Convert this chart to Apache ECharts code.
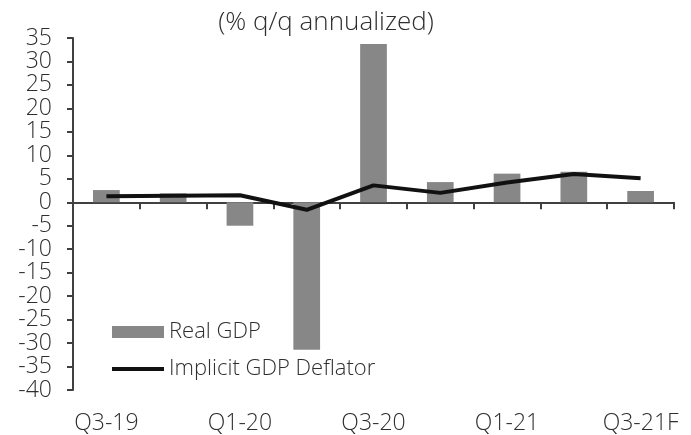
<!DOCTYPE html>
<html>
<head>
<meta charset="utf-8">
<script src="https://cdn.jsdelivr.net/npm/echarts@6/dist/echarts.min.js"></script>
<style>
  html, body { margin: 0; padding: 0; background: #fff; }
  #chart { width: 691px; height: 435px; }
</style>
</head>
<body>
<div id="chart"></div>
<script>
// quarters on the axis
const quarters = ['Q3-19', 'Q4-19', 'Q1-20', 'Q2-20', 'Q3-20', 'Q4-20', 'Q1-21', 'Q2-21', 'Q3-21F'];
// % q/q annualized
const realGdp = [2.6, 1.9, -5.0, -31.4, 33.7, 4.3, 6.1, 6.5, 2.4];
const deflator = [1.3, 1.4, 1.5, -1.6, 3.6, 2.0, 4.2, 6.0, 5.1];

const fontName = 'Open Sans';
const textColor = '#2e2e2e';
const axisColor = '#404040';
const lineColor = '#111';

const chart = echarts.init(document.getElementById('chart'));

chart.setOption({
  animation: false,
  title: {
    text: '(% q/q annualized)',
    left: 326,
    top: 10,
    padding: 0,
    textAlign: 'center',
    textStyle: { fontFamily: fontName, fontWeight: 300, fontSize: 26, color: textColor }
  },
  grid: { left: 73, right: 17, top: 38, bottom: 45 },
  legend: {
    orient: 'vertical',
    left: 110,
    top: 321,
    padding: 0,
    itemWidth: 52,
    itemHeight: 12,
    itemGap: 15,
    textStyle: { fontFamily: fontName, fontWeight: 300, fontSize: 22, color: textColor },
    data: [
      { name: 'Real GDP', icon: 'rect' },
      {
        name: 'Implicit GDP Deflator',
        itemStyle: { opacity: 0 },
        lineStyle: { color: lineColor, width: 4 }
      }
    ]
  },
  xAxis: [
    {
      // axis line sits on zero
      type: 'category',
      data: quarters,
      axisLine: { onZero: true, lineStyle: { color: axisColor, width: 2 } },
      axisTick: { show: true, length: 7, lineStyle: { color: axisColor, width: 2 } },
      axisLabel: { show: false }
    },
    {
      // labels only, at the bottom
      type: 'category',
      data: quarters,
      position: 'bottom',
      axisLine: { show: false, onZero: false },
      axisTick: { show: false },
      axisLabel: {
        interval: 1,
        margin: 22,
        fontFamily: fontName,
        fontWeight: 300,
        fontSize: 23,
        color: textColor
      }
    }
  ],
  yAxis: {
    type: 'value',
    min: -40,
    max: 35,
    interval: 5,
    splitLine: { show: false },
    axisLine: { show: true, lineStyle: { color: axisColor, width: 2 } },
    axisTick: { show: true, length: 6, lineStyle: { color: axisColor, width: 2 } },
    axisLabel: {
      margin: 21,
      fontFamily: fontName,
      fontWeight: 300,
      fontSize: 23,
      color: textColor
    }
  },
  series: [
    {
      name: 'Real GDP',
      type: 'bar',
      xAxisIndex: 0,
      data: realGdp,
      barWidth: '40%',
      itemStyle: { color: '#878787' }
    },
    {
      name: 'Implicit GDP Deflator',
      type: 'line',
      xAxisIndex: 0,
      data: deflator,
      symbol: 'none',
      itemStyle: { color: lineColor },
      lineStyle: { color: lineColor, width: 4 },
      z: 5
    }
  ]
});
</script>
</body>
</html>
